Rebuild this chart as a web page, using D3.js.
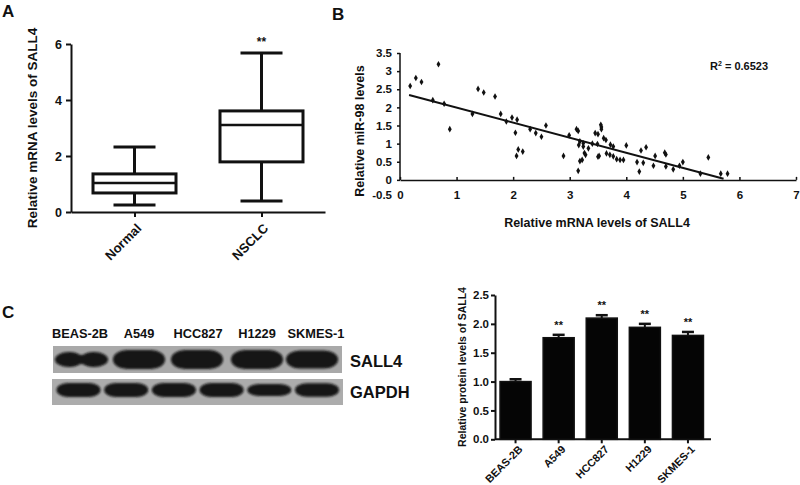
<!DOCTYPE html>
<html><head><meta charset="utf-8">
<script src="https://cdn.jsdelivr.net/npm/d3@7"></script>
<style>
body{margin:0;background:#fff;}
svg text{font-family:"Liberation Sans",Arial,sans-serif;font-weight:bold;fill:#111;}
</style></head><body>
<svg id="fig" width="800" height="485"></svg>
<script>
// ---------- Panel A: box plot ----------
const boxCategories = ["Normal", "NSCLC"];
const boxMin    = [0.25, 0.39];
const boxQ1     = [0.68, 1.79];
const boxMedian = [1.04, 3.11];
const boxQ3     = [1.36, 3.61];
const boxMax    = [2.32, 5.68];
const boxSignif = ["", "**"];
const boxYTicks = [0, 2, 4, 6];
const boxYTitle = "Relative mRNA levels of SALL4";

// ---------- Panel B: scatter ----------
const scatterX = [0.18,0.28,0.38,0.58,0.68,0.78,0.88,1.28,1.38,1.48,1.68,1.78,1.88,1.98,2.07,2.04,2.06,2.09,2.17,2.30,2.40,2.50,2.58,2.89,2.99,3.12,3.15,3.16,3.18,3.18,3.15,3.22,3.24,3.24,3.26,3.28,3.33,3.40,3.45,3.49,3.50,3.50,3.52,3.55,3.56,3.56,3.60,3.64,3.65,3.71,3.72,3.77,3.77,3.83,3.89,3.95,4.00,4.19,4.23,4.26,4.30,4.35,4.48,4.51,4.68,4.70,4.70,4.83,4.94,5.00,5.31,5.45,5.67,5.79];
const scatterY = [2.59,2.81,2.70,2.20,3.19,2.10,1.40,1.82,2.51,2.41,2.30,1.82,1.61,1.72,1.66,1.30,0.66,0.84,0.78,1.40,1.29,1.19,1.50,0.66,1.23,1.40,1.35,0.96,1.06,0.52,0.25,0.55,1.01,0.92,0.74,0.69,0.87,1.00,1.29,0.99,1.26,0.64,0.66,1.52,1.46,1.40,1.15,1.10,0.73,0.69,0.97,0.92,0.65,0.57,0.55,0.55,0.95,0.49,0.23,0.81,0.47,0.90,0.39,0.66,0.75,0.70,0.37,0.29,0.39,0.49,0.17,0.62,0.17,0.17];
const fitSlope = -0.416, fitIntercept = 2.41;
const fitXRange = [0.16, 5.72];
const rSquared = "0.6523";
const scatterXTicks = [0, 1, 2, 3, 4, 5, 6, 7];
const scatterYTicks = [-0.5, 0, 0.5, 1, 1.5, 2, 2.5, 3, 3.5];
const scatterXTitle = "Relative mRNA levels of SALL4";
const scatterYTitle = "Relative miR-98 levels";

// ---------- Panel C: western blot ----------
const laneLabels = ["BEAS-2B", "A549", "HCC827", "H1229", "SKMES-1"];
const sall4BandIntensity = [0.8, 1.0, 1.0, 1.0, 0.95];
const gapdhBandIntensity = [1.0, 1.0, 1.0, 1.0, 0.85, 0.95];
const blotRows = ["SALL4", "GAPDH"];

// ---------- Panel C: bar chart ----------
const barCategories = ["BEAS-2B", "A549", "HCC827", "H1229", "SKMES-1"];
const barValues = [1.00, 1.76, 2.10, 1.94, 1.80];
const barErrors = [0.04, 0.05, 0.05, 0.06, 0.06];
const barSignif = ["", "**", "**", "**", "**"];
const barYTicks = [0, 0.5, 1.0, 1.5, 2.0, 2.5];
const barYTitle = "Relative protein levels of SALL4";

const svg = d3.select("#fig");
svg.append("rect").attr("width", 800).attr("height", 485).attr("fill", "#fff");
const ink = "#111";

function styleAxis(g, sw, fs) {
  g.selectAll("path,line").attr("stroke", ink).attr("stroke-width", sw);
  g.selectAll("text").attr("font-size", fs).attr("fill", ink)
    .style("font-family", '"Liberation Sans",Arial,sans-serif').style("font-weight", "bold");
}

// panel letters
[["A", 2, 17], ["B", 332, 20], ["C", 2, 318]].forEach(([t, x, y]) =>
  svg.append("text").attr("x", x).attr("y", y).attr("font-size", 17).text(t));

// ===== Panel A =====
{
  const yA = d3.scaleLinear().domain([0, 6]).range([212, 44]);
  const xA = d3.scalePoint().domain(boxCategories).range([71, 325]).padding(0.5);
  const gy = svg.append("g").attr("transform", "translate(71,0)")
    .call(d3.axisLeft(yA).tickValues(boxYTicks).tickSize(5).tickSizeOuter(0).tickPadding(4).tickFormat(d3.format("d")));
  styleAxis(gy, 2, 12.5);
  const gx = svg.append("g").attr("transform", "translate(0,212)")
    .call(d3.axisBottom(xA).tickSize(5).tickSizeOuter(0));
  styleAxis(gx, 2, 13);
  gx.selectAll("text").attr("x", 0).attr("y", 0).attr("dy", "0.35em")
    .attr("text-anchor", "end").attr("transform", "translate(4,14) rotate(-45)");

  svg.append("text").attr("transform", "translate(32,128) rotate(-90)")
    .attr("text-anchor", "middle").attr("dy", "0.35em").attr("font-size", 13.5).text(boxYTitle);

  const bw = 83, cw = 42;
  boxCategories.forEach((c, i) => {
    const cx = xA(c);
    const g = svg.append("g").attr("stroke", ink).attr("stroke-width", 3).attr("fill", "none");
    g.append("line").attr("x1", cx).attr("x2", cx).attr("y1", yA(boxMin[i])).attr("y2", yA(boxMax[i]));
    g.append("line").attr("x1", cx - cw / 2).attr("x2", cx + cw / 2).attr("y1", yA(boxMin[i])).attr("y2", yA(boxMin[i]));
    g.append("line").attr("x1", cx - cw / 2).attr("x2", cx + cw / 2).attr("y1", yA(boxMax[i])).attr("y2", yA(boxMax[i]));
    g.append("rect").attr("x", cx - bw / 2).attr("width", bw)
      .attr("y", yA(boxQ3[i])).attr("height", yA(boxQ1[i]) - yA(boxQ3[i])).attr("fill", "#fff");
    g.append("line").attr("x1", cx - bw / 2).attr("x2", cx + bw / 2).attr("y1", yA(boxMedian[i])).attr("y2", yA(boxMedian[i])).attr("stroke-width", 2.5);
    if (boxSignif[i]) svg.append("text").attr("x", cx).attr("y", yA(boxMax[i]) - 7)
      .attr("text-anchor", "middle").attr("font-size", 12).text(boxSignif[i]);
  });
}

// ===== Panel B =====
{
  const xB = d3.scaleLinear().domain([0, 7]).range([400, 796]);
  const yB = d3.scaleLinear().domain([-0.5, 3.5]).range([198, 53]);
  const gy = svg.append("g").attr("transform", "translate(400,0)")
    .call(d3.axisLeft(yB).tickValues(scatterYTicks.filter(v => v >= 0)).tickSize(3).tickPadding(5).tickFormat(d => String(d)));
  gy.select(".domain").remove();
  styleAxis(gy, 1.5, 11.5);
  gy.append("line").attr("x1", 0).attr("x2", 0).attr("y1", yB(0)).attr("y2", yB(3.5)).attr("stroke", ink).attr("stroke-width", 1.5);
  // -0.5 label (below the crossing x-axis)
  gy.append("text").attr("x", -8).attr("y", yB(-0.5)).attr("dy", "0.1em").attr("text-anchor", "end")
    .attr("font-size", 11.5).text(String(scatterYTicks[0]));

  const gx = svg.append("g").attr("transform", `translate(0,${yB(0)})`)
    .call(d3.axisBottom(xB).tickValues(scatterXTicks).tickSize(-3).tickSizeOuter(0).tickPadding(11).tickFormat(d => String(d)));
  styleAxis(gx, 1.5, 11.5);

  svg.append("text").attr("transform", "translate(360,131) rotate(-90)")
    .attr("text-anchor", "middle").attr("dy", "0.35em").attr("font-size", 12.5).text(scatterYTitle);
  svg.append("text").attr("x", 597).attr("y", 227).attr("text-anchor", "middle")
    .attr("font-size", 12.5).text(scatterXTitle);

  svg.append("line")
    .attr("x1", xB(fitXRange[0])).attr("y1", yB(fitIntercept + fitSlope * fitXRange[0]))
    .attr("x2", xB(fitXRange[1])).attr("y2", yB(fitIntercept + fitSlope * fitXRange[1]))
    .attr("stroke", ink).attr("stroke-width", 2);

  const sym = d3.symbol().type(d3.symbolDiamond).size(13);
  svg.append("g").selectAll("path").data(scatterX.map((x, i) => [x, scatterY[i]])).join("path")
    .attr("d", sym).attr("transform", d => `translate(${xB(d[0])},${yB(d[1])})`).attr("fill", ink);

  const rt = svg.append("text").attr("x", 710).attr("y", 70).attr("font-size", 11);
  rt.append("tspan").text("R");
  rt.append("tspan").attr("font-size", 7).attr("dy", -4).text("2");
  rt.append("tspan").attr("dy", 4).text(" = " + rSquared);
}

// ===== Panel C: blot =====
{
  const defs = svg.append("defs");
  defs.append("filter").attr("id", "blur").attr("x", "-20%").attr("y", "-50%").attr("width", "140%").attr("height", "200%")
    .append("feGaussianBlur").attr("stdDeviation", 1.3);
  const laneX = d3.scalePoint().domain(laneLabels).range([80, 316]);
  laneLabels.forEach(l => svg.append("text").attr("x", laneX(l)).attr("y", 338)
    .attr("text-anchor", "middle").attr("font-size", 12.8).text(l));

  // SALL4 strip
  svg.append("rect").attr("x", 53).attr("y", 346).attr("width", 289).attr("height", 27).attr("fill", "#a9a9a9");
  const gS = svg.append("g").attr("filter", "url(#blur)").attr("fill", "#121212");
  laneLabels.forEach((l, i) => {
    const cx = laneX(l) + (i === 0 ? 1 : (i === 2 ? -1 : (i === 4 ? -4 : 0)));
    const h = 19 * sall4BandIntensity[i];
    if (i === 0) {
      gS.append("ellipse").attr("cx", cx - 12).attr("cy", 359.5).attr("rx", 14).attr("ry", h / 2);
      gS.append("ellipse").attr("cx", cx + 13).attr("cy", 359.5).attr("rx", 14).attr("ry", h / 2);
      gS.append("rect").attr("x", cx - 12).attr("y", 359.5 - h / 2 + 3).attr("width", 25).attr("height", h - 6);
    } else {
      gS.append("rect").attr("x", cx - 26).attr("y", 359.5 - h / 2).attr("width", 52).attr("height", h)
        .attr("rx", 14).attr("ry", h / 2);
    }
  });

  // GAPDH strip
  const gapX = d3.scalePoint().domain(d3.range(gapdhBandIntensity.length)).range([78.5, 317]);
  svg.append("rect").attr("x", 52).attr("y", 379).attr("width", 291).attr("height", 26).attr("fill", "#acacac");
  const gG = svg.append("g").attr("filter", "url(#blur)").attr("fill", "#121212");
  gapdhBandIntensity.forEach((v, i) => {
    const h = 14 * v;
    gG.append("rect").attr("x", gapX(i) - 22).attr("y", 390 - h / 2).attr("width", 44).attr("height", h)
      .attr("rx", 12).attr("ry", h / 2);
  });

  svg.append("text").attr("x", 350).attr("y", 367).attr("font-size", 16.5).text(blotRows[0]);
  svg.append("text").attr("x", 350).attr("y", 398).attr("font-size", 16.5).text(blotRows[1]);
}

// ===== Panel C: bar chart =====
{
  const xC = d3.scaleBand().domain(barCategories).range([494, 709.5]).paddingInner(0.28).paddingOuter(0.14);
  const yC = d3.scaleLinear().domain([0, 2.5]).range([439.3, 295]);
  const gy = svg.append("g").attr("transform", "translate(495,0)")
    .call(d3.axisLeft(yC).tickValues(barYTicks).tickSize(4).tickSizeOuter(0).tickPadding(2).tickFormat(d3.format(".1f")));
  styleAxis(gy, 2, 11.5);
  const gx = svg.append("g").attr("transform", "translate(0,439.3)")
    .call(d3.axisBottom(xC).tickSize(4).tickSizeOuter(0));
  gx.select(".domain").attr("d", "M495,0H711");
  styleAxis(gx, 2, 10.8);
  gx.selectAll("text").attr("x", 0).attr("y", 0).attr("dy", "0.35em")
    .attr("text-anchor", "end").attr("transform", "translate(5,8) rotate(-45)");

  svg.append("text").attr("transform", "translate(462,367) rotate(-90)")
    .attr("text-anchor", "middle").attr("dy", "0.35em").attr("font-size", 10.5).text(barYTitle);

  barCategories.forEach((c, i) => {
    const x0 = xC(c), w = xC.bandwidth(), cx = x0 + w / 2;
    svg.append("line").attr("x1", cx).attr("x2", cx).attr("y1", yC(barValues[i])).attr("y2", yC(barValues[i] + barErrors[i]))
      .attr("stroke", ink).attr("stroke-width", 2);
    svg.append("line").attr("x1", cx - 6).attr("x2", cx + 6).attr("y1", yC(barValues[i] + barErrors[i])).attr("y2", yC(barValues[i] + barErrors[i]))
      .attr("stroke", ink).attr("stroke-width", 2.5);
    svg.append("rect").attr("x", x0).attr("width", w).attr("y", yC(barValues[i]))
      .attr("height", yC(0) - yC(barValues[i])).attr("fill", "#050505").attr("stroke", ink).attr("stroke-width", 1.5);
    if (barSignif[i]) svg.append("text").attr("x", cx).attr("y", yC(barValues[i] + barErrors[i]) - 6)
      .attr("text-anchor", "middle").attr("font-size", 11).text(barSignif[i]);
  });
}
</script>
</body></html>
